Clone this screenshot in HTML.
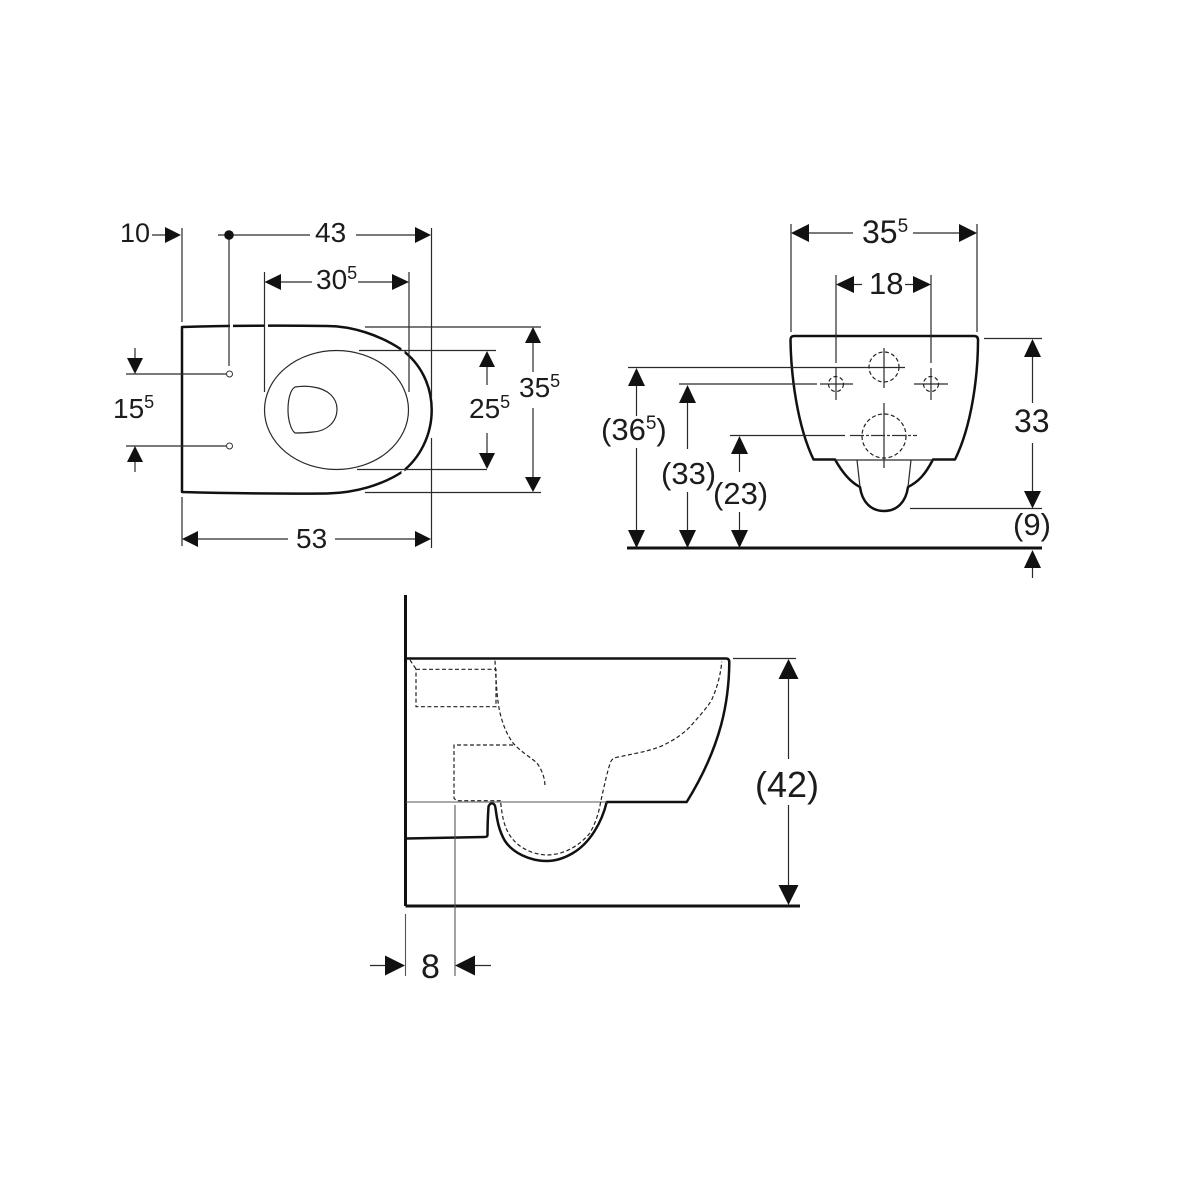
<!DOCTYPE html>
<html><head><meta charset="utf-8"><style>
html,body{margin:0;padding:0;background:#fff}
svg{display:block}
text{font-family:"Liberation Sans",sans-serif;fill:#1c1c1c}
.t{fill:none;stroke:#2a2a2a;stroke-width:1.2}
.o{fill:none;stroke:#111;stroke-width:2.5;stroke-linejoin:round}
.d{fill:none;stroke:#222;stroke-width:1.2;stroke-dasharray:4 2.500}
.a{fill:#111;stroke:none}
</style></head><body>
<svg width="1200" height="1200" viewBox="0 0 1200 1200" xmlns="http://www.w3.org/2000/svg">
<rect width="1200" height="1200" fill="#fff"/>

<!-- TOP-LEFT: plan view -->
<path class="o" d="M182 327 Q250 325 327 326 C352 326 380 335 402 350 C420 363 431.700 385 431.700 410 C431.700 435 420 458 402 472 C382 485 355 493 327 493.500 Q250 494 182 492 Z"/>
<ellipse cx="336.500" cy="410" rx="72" ry="59.500" class="t"/>
<path class="t" d="M295 387 C302 386 308 386 313 387 C328 389 337 398 337 409 C337 422 327 431 313 432 C305 433 300 433 295 433 C291 430 288 420 288 410 C288 400 290 390 295 387 Z"/>
<circle cx="229.500" cy="374" r="3" fill="#fff" stroke="#333" stroke-width="1"/>
<circle cx="229.500" cy="446" r="3" fill="#fff" stroke="#333" stroke-width="1"/>
<g stroke="#fff" stroke-width="3"><path d="M231.500 323V329M266.500 323V329M403 346V355M403 465V474"/></g>
<g class="t">
<path d="M182 228V322M182 497V546M431.500 228V398M431.500 438V548"/>
<path d="M152 235H166M218 235H310M356 235H416"/>
<path d="M229 235V366"/>
<path d="M264.500 272V392M409 272V392"/>
<path d="M281 282H312M358 282H393"/>
<path d="M126 374H226M126 446H226"/>
<path d="M135 348V360M135 460V472"/>
<path d="M198 539H288M335 539H415"/>
<path d="M365 327H541M365 492.500H541M533 342V372M533 408V478"/>
<path d="M359 350.500H496M357 469.500H487M487 366V385M487 433V454"/>
</g>
<circle cx="229" cy="235" r="4.800" fill="#111"/>
<path class="a" d="M181 235L165 227V243ZM431 235L415 227V243ZM264.500 282L281 274V290ZM409 282L392 274V290ZM135 374L127 358H143ZM135 446L127 462H143ZM182 539L198 531V547ZM431 539L415 531V547ZM533 327L525 343H541ZM533 492L525 477H541ZM487 351L479 367H495ZM487 469L479 453H495Z"/>
<text x="120" y="242" font-size="27">10</text>
<text x="315" y="242" font-size="28">43</text>
<text x="316" y="289" font-size="28">30<tspan font-size="18" dy="-10">5</tspan></text>
<text x="113" y="418" font-size="28">15<tspan font-size="18" dy="-10">5</tspan></text>
<text x="469" y="418" font-size="28">25<tspan font-size="18" dy="-10">5</tspan></text>
<text x="519" y="397" font-size="28">35<tspan font-size="18" dy="-10">5</tspan></text>
<text x="296" y="548" font-size="28">53</text>

<!-- TOP-RIGHT: front view -->
<path class="o" d="M794 336H974Q978 336 978 340C978 375 972 425 955 459.500H933C925 475 918 482 908 487C906 502 897 511 884 511C871 511 862 502 860 487C850 482 842 472 835 459.500H813.500C797 425 791 375 790.500 340Q790.500 336 794 336Z"/>
<g class="t">
<path d="M835 460H933M857 460L860 487M911 460L908 487"/>
<path d="M791 224V332M977 224V332"/>
<path d="M809 233H853M913 233H959"/>
<path d="M854 284.500H862M905 284.500H913"/>
<path d="M836 275V363M836 368V400M931 275V363M931 368V400"/>
<path d="M628 367.500H905M884 348V388"/>
<path d="M679 384H817M820 384H853M914 384H948"/>
<path d="M730 435.500H845M884 403V468"/>
<path d="M636.500 386V416M636.500 448V530M687.500 403V449M687.500 492V530M739.500 454V472M739.500 512V530"/>
<path d="M984 338.500H1042M910 508.500H1042M1032.500 357V403M1032.500 443V491M1032.500 568V578"/>
</g>
<path d="M850 435.500H917" fill="none" stroke="#333" stroke-width="1.200" stroke-dasharray="14 2 3 2"/>
<circle cx="884" cy="367" r="15" class="d" stroke-dasharray="3 2"/>
<circle cx="884" cy="436" r="22" class="d" stroke-dasharray="3 2"/>
<circle cx="836" cy="384" r="7.500" class="d" stroke-dasharray="2 1.500"/>
<circle cx="931" cy="384" r="7.500" class="d" stroke-dasharray="2 1.500"/>
<path d="M627 548H1042" stroke="#111" stroke-width="3" fill="none"/>
<path class="a" d="M791 233L809 224V242ZM977 233L959 224V242ZM836 284.500L854 276V293ZM931 284.500L913 276V293ZM636.500 368L628 386H645ZM636.500 548L628 530H645ZM687.500 385L679 403H696ZM687.500 548L679 530H696ZM739.500 436L731 454H748ZM739.500 548L731 530H748ZM1032.500 339L1024 357H1041ZM1032.500 508.500L1024 491H1041ZM1032.500 550L1024 568H1041Z"/>
<text x="862" y="243" font-size="32">35<tspan font-size="19" dy="-11">5</tspan></text>
<text x="869" y="294" font-size="31">18</text>
<text x="601" y="440" font-size="31">(36<tspan font-size="19" dy="-11">5</tspan><tspan dy="11">)</tspan></text>
<text x="661" y="484" font-size="31">(33)</text>
<text x="713" y="504" font-size="31">(23)</text>
<text x="1014" y="432" font-size="32">33</text>
<text x="1013" y="535" font-size="31">(9)</text>

<!-- BOTTOM: side view -->
<path d="M405.500 595V906M405.500 906H800" fill="none" stroke="#111" stroke-width="3"/>
<path class="o" d="M406 658.500H726Q729.300 658.500 729.300 662C729 700 722 745 686.700 802H606.700C602 822 590 843 573 853C563 859 555 861 546.700 861C530 861 513 853 505 841C499 831 497 820 495.500 808C495 802 489.500 802 488.500 807Q487.500 822 487.500 835Q487.500 837 484 837L406.500 838.500"/>
<path d="M406 802H607M455 805V976M405.500 914V976" fill="none" stroke="#555" stroke-width="1.100"/>
<g class="d">
<path d="M410 660L416 669M416 669.300H496V706.700H416Z"/>
<path d="M495 660.700C496 680 497 700 500 713C503 725 507 735 513.300 743.300C520 751 530 757 536.700 762.700C542 770 545 778 545 786.700"/>
<path d="M513 745H454V798.300L456.700 800.700H500.700"/>
<path d="M500.700 803C502 815 504 826 509 834C516 846 530 854 546 855C565 855 580 845 590 833C596 822 599 812 600.700 801.700C604 787 607 772 610.700 761.700C612 759 614 758 616.700 757.300C632 754 646 752 660 746.700C675 740 686 732 693.300 723C703 712 711 703 713 696.700C718 685 721 672 721.700 661.700"/>
</g>
<g class="t">
<path d="M733 658.500H796M788.500 679V759M788.500 805V885"/>
<path d="M370 965.500H386M474 965.500H491"/>
</g>
<path class="a" d="M788.500 659L778.500 679H798.500ZM788.500 905L778.500 885H798.500ZM405 965.500L385 955.500V975.500ZM455 965.500L475 955.500V975.500Z"/>
<text x="755" y="797" font-size="36">(42)</text>
<text x="421" y="978" font-size="34">8</text>
</svg>
</body></html>
